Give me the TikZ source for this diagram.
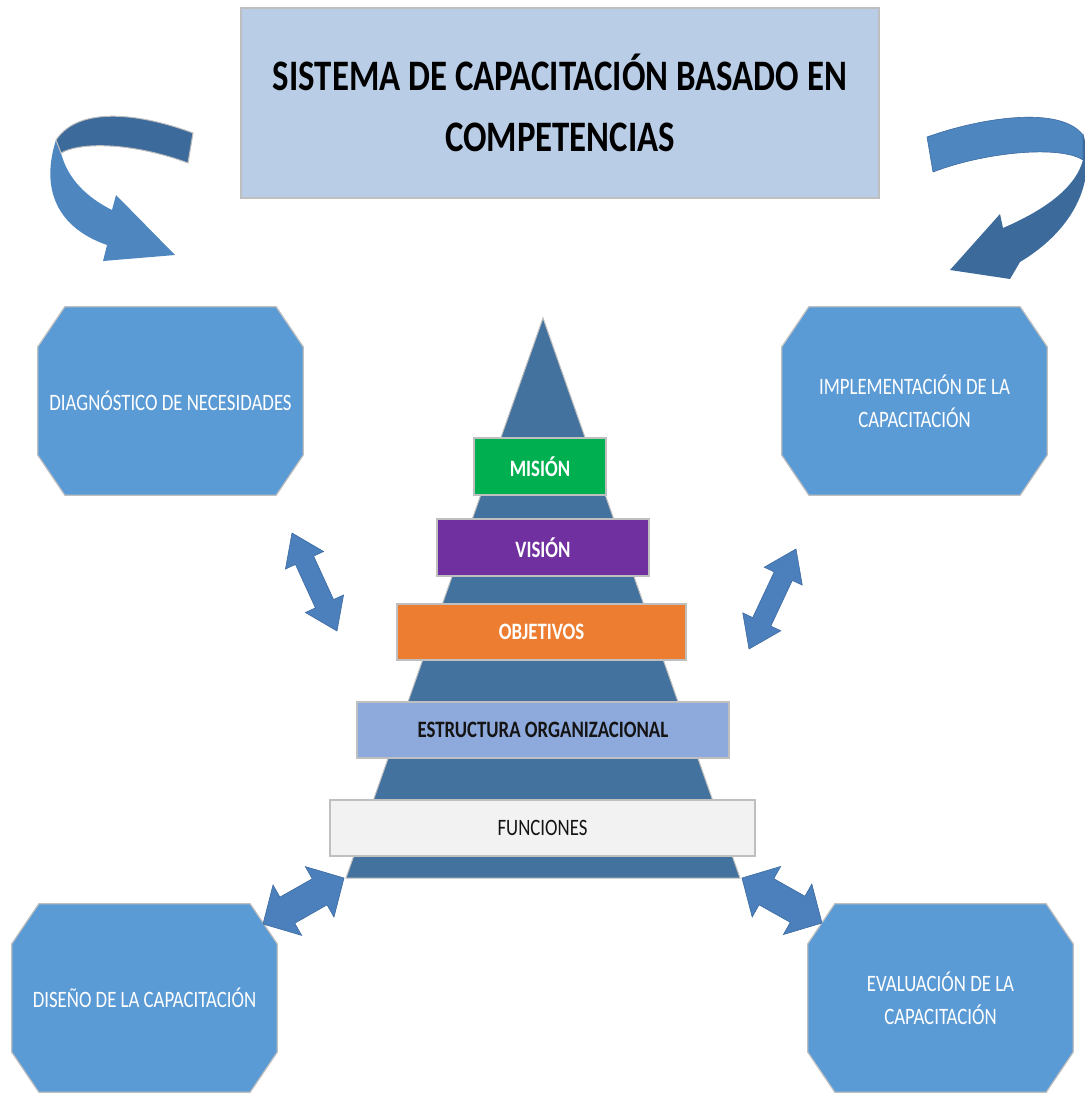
\documentclass[tikz,border=0pt]{standalone}
\usepackage{fontspec}
\setmainfont{Carlito}[FakeStretch=0.8]
\usetikzlibrary{calc,backgrounds}

\definecolor{titlefill}{RGB}{185,205,230}
\definecolor{octfill}{RGB}{91,155,213}
\definecolor{pyrfill}{RGB}{67,114,158}
\definecolor{edgegray}{RGB}{191,191,191}
\definecolor{arrowfill}{RGB}{76,128,188}
\definecolor{arrowedge}{RGB}{60,105,160}
\definecolor{ribbondark}{RGB}{60,106,154}
\definecolor{ribbonlight}{RGB}{78,135,192}
\definecolor{misionfill}{RGB}{0,176,80}
\definecolor{visionfill}{RGB}{112,48,160}
\definecolor{objfill}{RGB}{237,125,49}
\definecolor{estfill}{RGB}{142,169,219}
\definecolor{funfill}{RGB}{242,242,242}
\definecolor{darktext}{RGB}{20,20,20}

\tikzset{
  octbox/.style={minimum width=265pt, minimum height=188pt, inner sep=0pt,
    text=white, align=center, font=\fontsize{23.5}{33}\selectfont},
  octline/.style={fill=octfill, draw=edgegray, line width=1.2pt},
  band/.style={draw=edgegray, line width=1.2pt, inner sep=0pt, minimum height=56pt,
    font=\fontsize{23.5}{28}\selectfont\bfseries, text=white},
  dblarrow/.style={fill=arrowfill, draw=arrowedge, line width=0.6pt, line join=miter},
}

% octagonal frame around a named node (corner cut 27 x 40)
\newcommand\octframe[1]{%
  \begin{scope}[on background layer]
    \filldraw[octline]
      ($(#1.north west)+(27,0)$) -- ($(#1.north east)+(-27,0)$) --
      ($(#1.north east)+(0,40)$) -- ($(#1.south east)+(0,-40)$) --
      ($(#1.south east)+(-27,0)$) -- ($(#1.south west)+(27,0)$) --
      ($(#1.south west)+(0,-40)$) -- ($(#1.north west)+(0,40)$) -- cycle;
  \end{scope}}

% block double arrow between two named points:
% #1,#2 tips, #3 head length, #4 head half width, #5 shaft half width
\newcommand\blockarrow[5]{%
  \filldraw[dblarrow] (#1)
    -- ($(#1)!#3!(#2)!#4!90:(#2)$)
    -- ($(#1)!#3!(#2)!#5!90:(#2)$)
    -- ($(#2)!#3!(#1)!#5!-90:(#1)$)
    -- ($(#2)!#3!(#1)!#4!-90:(#1)$)
    -- (#2)
    -- ($(#2)!#3!(#1)!#4!90:(#1)$)
    -- ($(#2)!#3!(#1)!#5!90:(#1)$)
    -- ($(#1)!#3!(#2)!#5!-90:(#2)$)
    -- ($(#1)!#3!(#2)!#4!-90:(#2)$)
    -- cycle;}

\begin{document}
\begin{tikzpicture}[x=1pt, y=-1pt]
\useasboundingbox (0,0) rectangle (1084,1094);

% title
\node[fill=titlefill, draw=edgegray, line width=1.2pt, minimum width=638pt,
  minimum height=190pt, inner sep=0pt, align=center,
  font=\fontsize{43.5}{61}\selectfont\bfseries] (title) at (560,103)
  {SISTEMA DE CAPACITACIÓN BASADO EN\\COMPETENCIAS};

% ribbon arrow, upper left
\fill[ribbonlight] (56,140) .. controls (40,190) and (58,228) .. (107,245)
  -- (103,261) -- (175,255) -- (116,195) -- (112,210)
  .. controls (88,198) and (68,180) .. (61,153) -- cycle;
\filldraw[fill=ribbondark, draw=edgegray, line width=1pt]
  (193,133) .. controls (145,115) and (80,104) .. (56,140) -- (61,153)
  .. controls (85,140) and (140,145) .. (188,163) -- cycle;

% ribbon arrow, upper right
\fill[ribbondark] (1083,133) .. controls (1098,185) and (1070,232) .. (1020,262)
  -- (1010,279) -- (950,270) -- (1000,214) -- (1003,228)
  .. controls (1040,212) and (1075,190) .. (1083,160) -- cycle;
\filldraw[fill=ribbonlight, draw=arrowedge, line width=0.6pt]
  (927,137) .. controls (980,118) and (1060,105) .. (1083,135) -- (1083,160)
  .. controls (1060,145) and (985,152) .. (933,172) -- cycle;

% the four stages
\node[octbox] (diag) at (170.5,401) {DIAGNÓSTICO DE NECESIDADES};
\octframe{diag}
\node[octbox] (impl) at (914.5,401) {IMPLEMENTACIÓN DE LA\\CAPACITACIÓN};
\octframe{impl}
\node[octbox] (dise) at (144.5,998) {DISEÑO DE LA CAPACITACIÓN};
\octframe{dise}
\node[octbox] (eval) at (940.5,998) {EVALUACIÓN DE LA\\CAPACITACIÓN};
\octframe{eval}

% pyramid
\coordinate (apex) at (543,318);
\coordinate (pbl) at (346,878);
\coordinate (pbr) at (740,878);
\filldraw[fill=pyrfill, draw=edgegray, line width=1pt] (apex) -- (pbr) -- (pbl) -- cycle;

\node[band, fill=misionfill, minimum width=132pt, minimum height=57pt] (mision) at (540,466.5) {MISIÓN};
\node[band, fill=visionfill, minimum width=212pt, minimum height=57pt] (vision) at (543,547.5) {VISIÓN};
\node[band, fill=objfill, minimum width=289pt] (objet) at (541.5,632) {OBJETIVOS};
\node[band, fill=estfill, minimum width=372pt, text=darktext] (estru) at (543,730) {ESTRUCTURA ORGANIZACIONAL};
\node[band, fill=funfill, minimum width=425pt, text=darktext, font=\fontsize{23.5}{28}\selectfont] (funci) at (542.5,828) {FUNCIONES};

% double arrows
\coordinate (ula) at (292,533);  \coordinate (ulb) at (337,631);
\coordinate (ura) at (796,549);  \coordinate (urb) at (749,649);
\coordinate (lla) at (263,924);  \coordinate (llb) at (344,878);
\coordinate (lra) at (742,878);  \coordinate (lrb) at (822,923);
\blockarrow{ula}{ulb}{30pt}{21pt}{10pt}
\blockarrow{ura}{urb}{30pt}{21pt}{10pt}
\blockarrow{lla}{llb}{28pt}{29pt}{15pt}
\blockarrow{lra}{lrb}{28pt}{29pt}{15pt}
\end{tikzpicture}
\end{document}
